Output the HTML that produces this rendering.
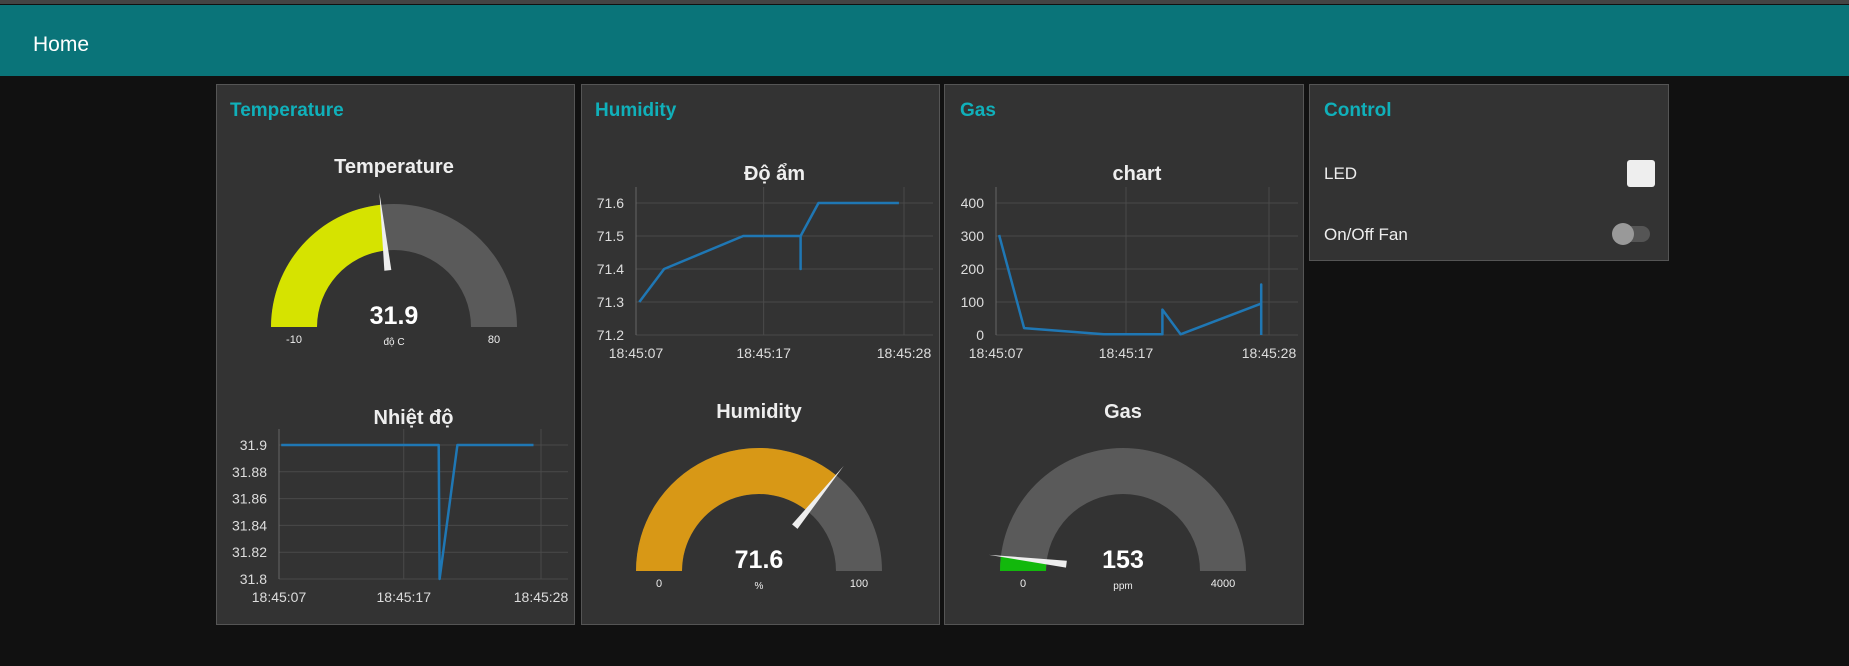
<!DOCTYPE html>
<html><head><meta charset="utf-8">
<style>
html,body{margin:0;padding:0;background:#111;width:1849px;height:666px;overflow:hidden;font-family:"Liberation Sans","Noto Sans CJK SC",sans-serif;}
#top{position:absolute;left:0;top:0;width:1849px;height:4px;background:#444;}
#hdr{position:absolute;left:0;top:5px;width:1849px;height:71px;background:#0a7479;}
#home{position:absolute;left:33px;top:28px;color:#fff;font-size:21px;}
.panel{position:absolute;background:#333;border:1px solid #555;box-sizing:border-box;}
.ptitle{position:absolute;color:#10b0ba;font-size:19px;font-weight:bold;}
.lbl{position:absolute;color:#eee;font-size:17px;}
svg{position:absolute;left:0;top:0;}
</style></head><body>
<div id="top"></div>
<div id="hdr"><span id="home">Home</span></div>
<div class="panel" style="left:216px;top:84px;width:359px;height:541px"><span class="ptitle" style="left:13px;top:15px">Temperature</span></div>
<div class="panel" style="left:581px;top:84px;width:359px;height:541px"><span class="ptitle" style="left:13px;top:15px">Humidity</span></div>
<div class="panel" style="left:944px;top:84px;width:360px;height:541px"><span class="ptitle" style="left:15px;top:15px">Gas</span></div>
<div class="panel" style="left:1309px;top:84px;width:360px;height:177px">
<span class="ptitle" style="left:14px;top:15px">Control</span>
<span class="lbl" style="left:14px;top:79px">LED</span>
<div style="position:absolute;left:317px;top:75px;width:28px;height:27px;background:#eee;border-radius:3px"></div>
<span class="lbl" style="left:14px;top:140px">On/Off Fan</span>
<div style="position:absolute;left:308px;top:141px;width:32px;height:16px;background:#555;border-radius:8px"><div style="position:absolute;left:-6px;top:-3px;width:22px;height:22px;border-radius:11px;background:#999"></div></div>
</div>
<svg id="s" width="1849" height="666"></svg>
<script>
// Temperature chart data
const tempTimes=[7.18,19.8,19.87,21.3,27.4];
const tempValues=[31.9,31.9,31.8,31.9,31.9];
const tempYTicks=[31.8,31.82,31.84,31.86,31.88,31.9];
const tempYLabels=["31.8","31.82","31.84","31.86","31.88","31.9"];
// Humidity chart data
const humTimes=[7.26,9.2,15.4,19.9,19.9,19.9,21.3,27.6];
const humValues=[71.3,71.4,71.5,71.5,71.4,71.5,71.6,71.6];
const humYTicks=[71.2,71.3,71.4,71.5,71.6];
const humYLabels=["71.2","71.3","71.4","71.5","71.6"];
// Gas chart data
const gasTimes=[7.24,9.16,15.3,19.8,19.8,21.2,27.4,27.4,27.4];
const gasValues=[303,21,2,2,77,2,95,153,0];
const gasYTicks=[0,100,200,300,400];
const gasYLabels=["0","100","200","300","400"];
// shared x ticks
const xTicks=[7,17,28];
const xLabels=["18:45:07","18:45:17","18:45:28"];
// gauges
const gaugeValues=[31.9,71.6,153];
const gaugeMins=[-10,0,0];
const gaugeMaxs=[80,100,4000];

const NS="http://www.w3.org/2000/svg";
const S=document.getElementById('s');
function mk(tag,attrs,txt){const e=document.createElementNS(NS,tag);for(const k in attrs)e.setAttribute(k,attrs[k]);if(txt!==undefined)e.textContent=txt;S.appendChild(e);return e;}

function chart(name,title,cfg,times,vals,yt,yl){
  const sx=t=>cfg.x0+(t-7)*(cfg.x1-cfg.x0)/21;
  const sy=v=>cfg.y0+(v-cfg.vmin)*(cfg.y1-cfg.y0)/(cfg.vmax-cfg.vmin);
  let e=mk('text',{x:(cfg.x0+cfg.xr)/2-10,y:cfg.ty,fill:'#eee','font-size':20,'font-weight':'bold','text-anchor':'middle'},title);
  
  
  yt.forEach((v,i)=>{
    e=mk('line',{x1:cfg.x0,x2:cfg.xr,y1:sy(v),y2:sy(v),stroke:'#4a4a4a','stroke-width':1});
    
    
    e=mk('text',{x:cfg.x0-12,y:sy(v)+5,fill:'#ddd','font-size':14,'text-anchor':'end'},yl[i]);
    
    
  });
  xTicks.forEach((t,i)=>{
    e=mk('line',{x1:sx(t),x2:sx(t),y1:cfg.y1-16,y2:cfg.y0,stroke:i==0?'#666':'#4a4a4a','stroke-width':1});
    
    
    e=mk('text',{x:sx(t),y:cfg.y0+23,fill:'#ddd','font-size':14,'text-anchor':'middle'},xLabels[i]);
    
    
  });
  const pts=times.map((t,i)=>sx(t).toFixed(1)+','+sy(vals[i]).toFixed(1)).join(' ');
  e=mk('polyline',{points:pts,fill:'none',stroke:'#1f77b4','stroke-width':2.5,'stroke-linejoin':'round'});
  
  
}
chart('temperature-chart','Nhiệt độ',{x0:279,x1:541,xr:568,y0:579,y1:445,vmin:31.8,vmax:31.9,ty:424},tempTimes,tempValues,tempYTicks,tempYLabels);
chart('humidity-chart','Độ ẩm',{x0:636,x1:904,xr:933,y0:335,y1:203,vmin:71.2,vmax:71.6,ty:180},humTimes,humValues,humYTicks,humYLabels);
chart('gas-chart','chart',{x0:996,x1:1269,xr:1298,y0:335,y1:203,vmin:0,vmax:400,ty:180},gasTimes,gasValues,gasYTicks,gasYLabels);

function gauge(name,i,cx,cy,color,title,unit,minL,maxL,ty){
  const R=123,r=77;
  const f=Math.max(0,Math.min(1,(gaugeValues[i]-gaugeMins[i])/(gaugeMaxs[i]-gaugeMins[i])));
  const P=(rad,ff)=>[cx-rad*Math.cos(Math.PI*ff),cy-rad*Math.sin(Math.PI*ff)];
  const arc=(a,b,col,nm)=>{const o1=P(R,a),o2=P(R,b),i2=P(r,b),i1=P(r,a);
    const d=`M${o1} A${R},${R} 0 0 1 ${o2} L${i2} A${r},${r} 0 0 0 ${i1} Z`;
    const e=mk('path',{d:d,fill:col});
    
    };
  arc(0,1,'#5a5a5a',name+'-track');
  if(f>0)arc(0,f,color,name+'-value-arc');
  const a=Math.PI*f,ux=-Math.cos(a),uy=-Math.sin(a),px=-uy,py=ux;
  const b=[cx+57*ux,cy+57*uy],t=[cx+135*ux,cy+135*uy];
  let e=mk('polygon',{points:`${b[0]+3.5*px},${b[1]+3.5*py} ${b[0]-3.5*px},${b[1]-3.5*py} ${t[0]},${t[1]}`,fill:'#eee'});
  
  
  e=mk('text',{x:cx,y:ty,fill:'#eee','font-size':20,'font-weight':'bold','text-anchor':'middle'},title);
  
  
  e=mk('text',{x:cx,y:cy-3,fill:'#fff','font-size':25,'font-weight':'bold','text-anchor':'middle'},String(gaugeValues[i]));
  
  
  e=mk('text',{x:cx,y:cy+18,fill:'#eee','font-size':10,'text-anchor':'middle'},unit);
  
  
  e=mk('text',{x:cx-100,y:cy+16,fill:'#eee','font-size':11,'text-anchor':'middle'},minL);
  
  
  e=mk('text',{x:cx+100,y:cy+16,fill:'#eee','font-size':11,'text-anchor':'middle'},maxL);
  
  
}
gauge('temperature-gauge',0,394,327,'#d6e300','Temperature','độ C','-10','80',173);
gauge('humidity-gauge',1,759,571,'#d89816','Humidity','%','0','100',418);
gauge('gas-gauge',2,1123,571,'#12b80c','Gas','ppm','0','4000',418);
</script>
</body></html>
